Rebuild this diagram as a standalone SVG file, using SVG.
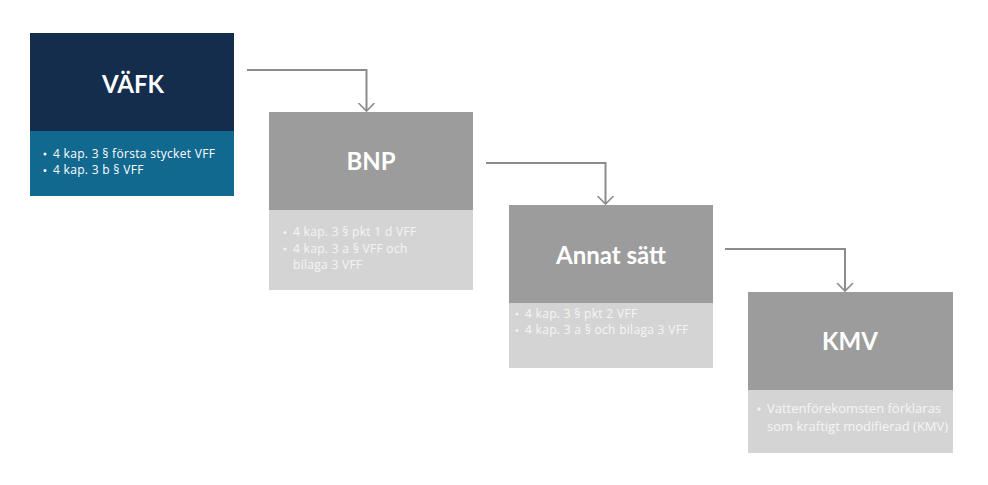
<svg xmlns="http://www.w3.org/2000/svg" width="988" height="485" viewBox="0 0 988 485">
<defs>
<style>
.title{font-family:Lato,"Liberation Sans",sans-serif;font-weight:bold;font-size:24px;fill:#ffffff;text-anchor:middle}
.b{font-family:"Open Sans","Liberation Sans",sans-serif;font-size:12px;letter-spacing:0.3px;fill:#ffffff}
.bl{font-family:"Open Sans","Liberation Sans",sans-serif;font-size:12px;letter-spacing:0.3px;fill:#f4f4f4}
.k{font-size:13px;letter-spacing:0}
.dot{fill:#ffffff}
.dotl{fill:#f4f4f4}
.conn{fill:none;stroke:#8c8c8c;stroke-width:2}
.gtop{fill:#9c9c9c}
.gbot{fill:#d4d4d4}
</style>
<marker id="arr" markerWidth="20" markerHeight="20" refX="8" refY="10" viewBox="0 0 20 20" markerUnits="userSpaceOnUse" orient="auto">
<path d="M0,2 L8,10 L0,18" fill="none" stroke="#8c8c8c" stroke-width="1.6"/>
</marker>
</defs>
<rect width="988" height="485" fill="#ffffff"/>
<g id="connectors">
<path class="conn" d="M247,70 H366.5 V111" marker-end="url(#arr)"/>
<path class="conn" d="M486,163 H605.5 V204" marker-end="url(#arr)"/>
<path class="conn" d="M725,249 H845 V291" marker-end="url(#arr)"/>
</g>
<g id="vafk">
<rect x="30" y="33" width="204" height="98" fill="#142d4c"/>
<rect x="30" y="131" width="204" height="65" fill="#12698f"/>
<text class="title" x="133" y="93">VÄFK</text>
<circle class="dot" cx="45" cy="154" r="1.5"/><text class="b" x="53" y="157.5">4 kap. 3 § första stycket VFF</text>
<circle class="dot" cx="45" cy="170.5" r="1.5"/><text class="b" x="53" y="174">4 kap. 3 b § VFF</text>
</g>
<g id="bnp">
<rect class="gtop" x="269" y="112" width="204" height="98"/>
<rect class="gbot" x="269" y="210" width="204" height="80"/>
<text class="title" x="371" y="170">BNP</text>
<circle class="dotl" cx="285" cy="232.5" r="1.5"/><text class="bl" x="293" y="236">4 kap. 3 § pkt 1 d VFF</text>
<circle class="dotl" cx="285" cy="249" r="1.5"/><text class="bl" x="293" y="252.5">4 kap. 3 a § VFF och</text>
<text class="bl" x="293" y="269">bilaga 3 VFF</text>
</g>
<g id="annat">
<rect class="gtop" x="509" y="205" width="204" height="98"/>
<rect class="gbot" x="509" y="303" width="204" height="65"/>
<text class="title" x="611" y="264">Annat sätt</text>
<circle class="dotl" cx="517" cy="314" r="1.5"/><text class="bl" x="525" y="317.5">4 kap. 3 § pkt 2 VFF</text>
<circle class="dotl" cx="517" cy="330.5" r="1.5"/><text class="bl" x="525" y="334">4 kap. 3 a § och bilaga 3 VFF</text>
</g>
<g id="kmv">
<rect class="gtop" x="748" y="292" width="205" height="98"/>
<rect class="gbot" x="748" y="390" width="205" height="63"/>
<text class="title" x="850" y="350">KMV</text>
<circle class="dotl" cx="759" cy="409" r="1.7"/><text class="bl k" x="767" y="413">Vattenförekomsten förklaras</text>
<text class="bl k" x="767" y="431">som kraftigt modifierad (KMV)</text>
</g>
</svg>
